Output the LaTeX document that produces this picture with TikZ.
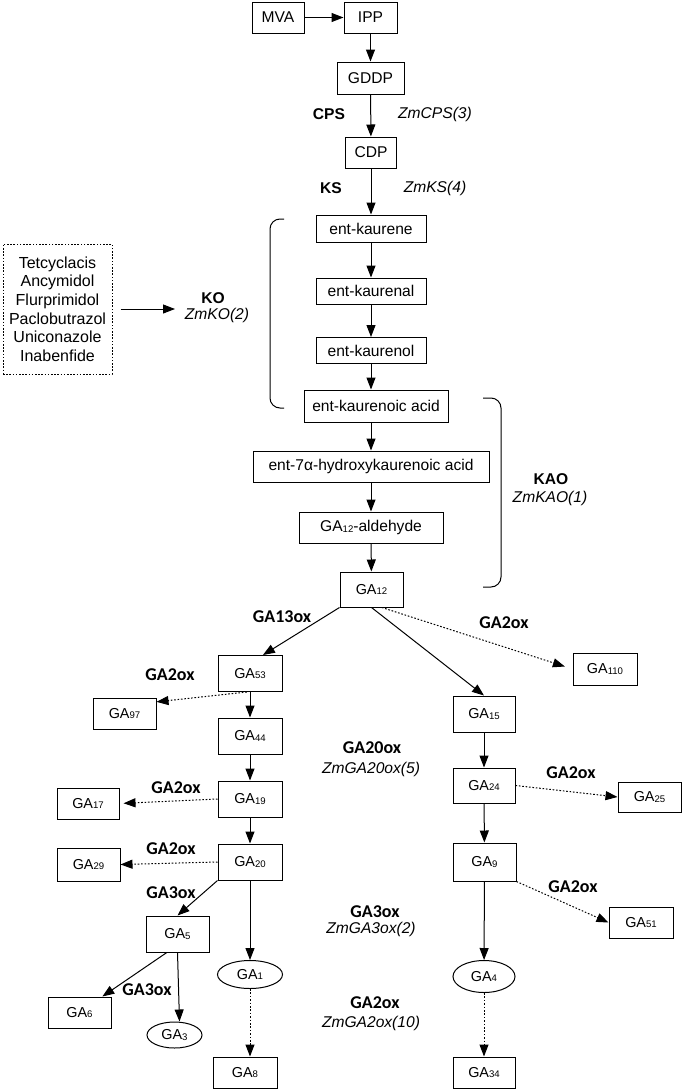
\documentclass[tikz,border=0pt]{standalone}
\usepackage{fontspec}
\setmainfont{Liberation Sans}
\newfontfamily\calfont{Carlito}
\usetikzlibrary{arrows.meta,shapes.geometric}
\newcommand{\gasub}[1]{GA\raisebox{-0.4pt}{\fontsize{4.8}{5}\selectfont #1}}

\begin{document}
\begin{tikzpicture}[x=0.5pt, y=-0.5pt, >={Triangle[length=6pt, width=4.5pt]}, line width=0.5pt,
    font=\fontsize{7.8}{9}\selectfont,
    box/.style={draw, inner sep=0pt, minimum width=#1, minimum height=15.5pt},
    box/.default=31.5pt,
    tall/.style={minimum height=18pt},
    ga/.style={box=#1, font=\fontsize{7.2}{8}\selectfont},
    ga/.default=31.5pt,
    oval/.style={draw, ellipse, inner sep=0pt, minimum width=#1, minimum height=14pt, font=\fontsize{7.2}{8}\selectfont},
    enz/.style={inner sep=0pt, font=\fontsize{7.8}{9}\selectfont\bfseries},
    ox/.style={inner sep=0pt, font=\calfont\fontsize{9}{10}\selectfont\bfseries},
    gene/.style={inner sep=0pt, font=\fontsize{7.8}{9}\selectfont\itshape},
    weak/.style={->, line width=0.5pt, dash pattern=on 0.8pt off 0.9pt}]

    \useasboundingbox (0,0) rectangle (685,1092);

    % main chain
    \node[box=26pt] (mva) at (278,17.5) {MVA};
    \node[box=26.5pt] (ipp) at (370.5,17.5) {IPP};
    \node[box=33.5pt, minimum height=16pt] (gddp) at (370.5,78) {GDDP};
    \node[box=25.5pt] (cdp) at (371,152.5) {CDP};
    \node[box=55pt, minimum height=13.5pt] (kaurene) at (371,228.5) {ent-kaurene};
    \node[box=55pt, minimum height=13pt] (kaurenal) at (371,291) {ent-kaurenal};
    \node[box=55pt, minimum height=13pt] (kaurenol) at (371,350.5) {ent-kaurenol};
    \node[box=72pt, minimum height=16pt] (acid) at (376,406) {ent-kaurenoic acid};
    \node[box=118pt] (hydroxy) at (371,466.5) {ent-7α-hydroxykaurenoic acid};
    \node[box=72pt] (ald) at (371,527.5) {\gasub{12}-aldehyde};
    \node[ga, minimum height=17.5pt] (ga12) at (371.5,589.5) {\gasub{12}};

    \node[draw, dash pattern=on 0.8pt off 0.8pt, align=center, inner sep=0pt, minimum width=54.5pt, minimum height=65pt,
        font=\fontsize{8}{9.3}\selectfont] (inhib) at (57.5,309)
        {Tetcyclacis\\Ancymidol\\Flurprimidol\\Paclobutrazol\\Uniconazole\\Inabenfide};
    \coordinate (koin) at (175,309);

    % left branch
    \node[ga=32pt, tall] (ga53) at (250,673.5) {\gasub{53}};
    \node[ga] (ga97) at (124.5,713.5) {\gasub{97}};
    \node[ga=32pt, tall] (ga44) at (250,736) {\gasub{44}};
    \node[ga=32pt, tall] (ga19) at (250,799) {\gasub{19}};
    \node[ga=31pt] (ga17) at (88,803.5) {\gasub{17}};
    \node[ga=32pt, tall] (ga20) at (250,862) {\gasub{20}};
    \node[ga, minimum height=16.5pt] (ga29) at (88.5,864.5) {\gasub{29}};
    \node[ga, tall] (ga5) at (177.5,934) {\gasub{5}};
    \node[oval=32.5pt] (ga1) at (250,974.5) {\gasub{1}};
    \node[ga] (ga6) at (79.5,1012.5) {\gasub{6}};
    \node[oval=27.5pt, minimum height=13pt] (ga3) at (174.5,1035) {\gasub{3}};
    \node[ga=32pt] (ga8) at (245,1072.5) {\gasub{8}};

    % right branch
    \node[ga=32pt, minimum height=16pt] (ga110) at (605,669) {\gasub{110}};
    \node[ga=31pt, tall] (ga15) at (484,714) {\gasub{15}};
    \node[ga=31pt, minimum height=17.5pt] (ga24) at (484,785.5) {\gasub{24}};
    \node[ga, minimum height=15pt] (ga25) at (649.5,797) {\gasub{25}};
    \node[ga, minimum height=19pt] (ga9) at (484.5,862) {\gasub{9}};
    \node[ga=32pt] (ga51) at (641,922.5) {\gasub{51}};
    \node[oval=31pt, minimum height=16pt] (ga4) at (484,976.5) {\gasub{4}};
    \node[ga=31pt] (ga34) at (484,1072.5) {\gasub{34}};

    % enzymes and genes
    \node[enz] (cps) at (329,114) {CPS};
    \node[gene] (zmcps) at (435,114) {ZmCPS(3)};
    \node[enz] (ks) at (331,188) {KS};
    \node[gene] (zmks) at (435,188) {ZmKS(4)};
    \node[enz] (ko) at (213,298) {KO};
    \node[gene] (zmko) at (217,315) {ZmKO(2)};
    \node[enz] (kao) at (551,479) {KAO};
    \node[gene] (zmkao) at (550,498) {ZmKAO(1)};
    \node[ox] (ga13ox) at (282,617) {GA13ox};
    \node[ox] (ox110) at (504,623) {GA2ox};
    \node[ox] (ox97) at (170,675) {GA2ox};
    \node[ox] (ga20ox) at (372,748) {GA20ox};
    \node[gene] (zmga20ox) at (371,769) {ZmGA20ox(5)};
    \node[ox] (ox25) at (571,773) {GA2ox};
    \node[ox] (ox17) at (176,788) {GA2ox};
    \node[ox] (ox29) at (171,849) {GA2ox};
    \node[ox] (ox5) at (171,893) {GA3ox};
    \node[ox] (ox51) at (573,887) {GA2ox};
    \node[ox] (ga3ox) at (375,912) {GA3ox};
    \node[gene] (zmga3ox) at (371,929) {ZmGA3ox(2)};
    \node[ox] (ox6) at (147,990) {GA3ox};
    \node[ox] (ga2ox) at (375,1003) {GA2ox};
    \node[gene] (zmga2ox) at (371,1023) {ZmGA2ox(10)};

    % brackets
    \draw[rounded corners=5pt] (284,219) -| (270,408) -- (284,408);
    \draw[rounded corners=5pt] (483,398) -| (501,587) -- (483,587);

    \draw[->] (mva) -- (ipp);
    \draw[->] (ipp) -- (gddp);
    \draw[->] (gddp) -- (cdp);
    \draw[->] (cdp) -- (kaurene);
    \draw[->] (kaurene) -- (kaurenal);
    \draw[->] (kaurenal) -- (kaurenol);
    \draw[->] (kaurenol) -- (kaurenol |- acid.north);
    \draw[->] (hydroxy.north |- acid.south) -- (hydroxy);
    \draw[->] (hydroxy) -- (ald);
    \draw[->] (ald) -- (ga12);
    \draw[->] ([xshift=4pt]inhib.east) -- (koin);

    \draw[->] (ga12.south west) -- (ga53.55);
    \draw[->] (ga12.south) -- (ga15.north);
    \draw[weak, shorten >=4pt] (ga12.-60) -- (ga110.west);
    \draw[weak] (ga53.-100) -- (ga97.20);
    \draw[->] (ga53) -- (ga44);
    \draw[->] (ga44) -- (ga19);
    \draw[->] (ga19) -- (ga20);
    \draw[weak, shorten >=2pt] (ga19.west) -- (ga17.east);
    \draw[weak] (ga20.west) -- (ga29.east);
    \draw[->] (ga20.south west) -- (ga5.north);
    \draw[->] (ga20) -- (ga1);
    \draw[->] (ga5.-120) -- (ga6.35);
    \draw[->] (ga5.south) -- ([xshift=2.5pt]ga3.north);
    \draw[weak] (ga1.south) -- (ga1.south |- ga8.north);

    \draw[->] (ga15) -- (ga24);
    \draw[->] (ga24) -- (ga9);
    \draw[weak] (ga24.east) -- (ga25.west);
    \draw[weak] (ga9.south east) -- (ga51.west);
    \draw[->] (ga9) -- (ga4);
    \draw[weak] (ga4) -- (ga34);

\end{tikzpicture}
\end{document}
